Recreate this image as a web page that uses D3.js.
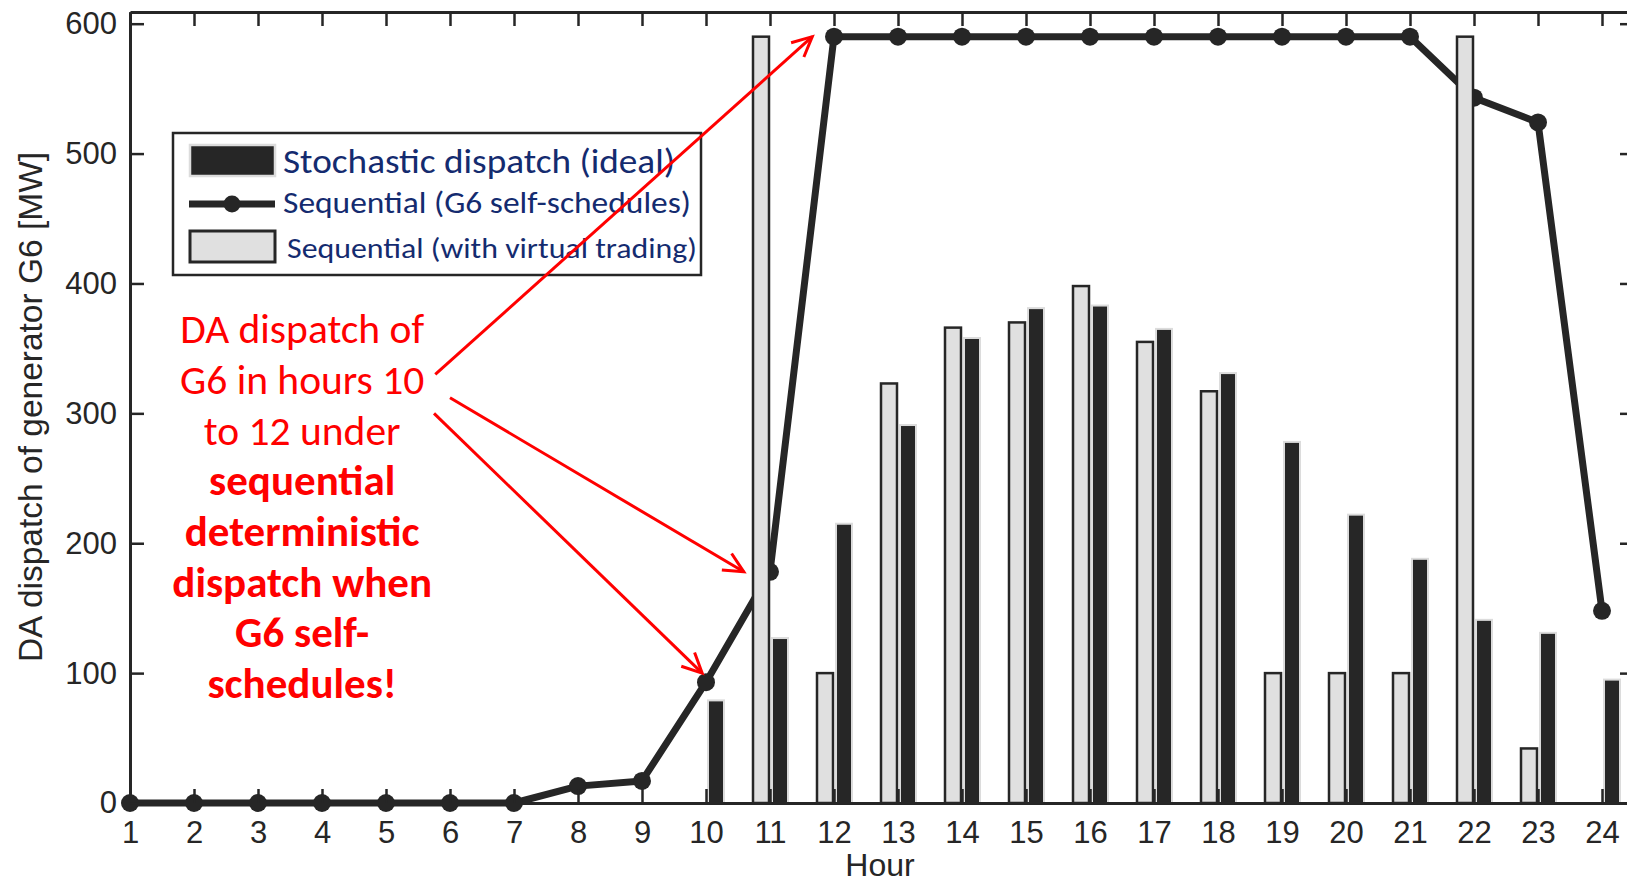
<!DOCTYPE html>
<html>
<head>
<meta charset="utf-8">
<script src="https://cdn.jsdelivr.net/npm/d3@7"></script>
<style>
    body { margin: 0; background: #fff; }
    svg { display: block; }
</style>
</head>
<body>
<svg id="chart" width="1627" height="884"></svg>
<script>
// data (MW per hour)
const hours = d3.range(1, 25);
const stochastic = [0, 0, 0, 0, 0, 0, 0, 0, 0, 79, 127, 215, 291, 358, 381, 383, 365, 331, 278, 222, 188, 141, 131, 95];
const selfSchedule = [0, 0, 0, 0, 0, 0, 0, 13, 17, 93, 178, 590, 590, 590, 590, 590, 590, 590, 590, 590, 590, 543, 524, 148];
const virtualTrading = [0, 0, 0, 0, 0, 0, 0, 0, 0, 0, 590, 100, 323, 366, 370, 398, 355, 317, 100, 100, 100, 590, 42, 0];
const yTicks = [0, 100, 200, 300, 400, 500, 600];

const legendLabels = ["Stochastic dispatch (ideal)", "Sequential (G6 self-schedules)", "Sequential (with virtual trading)"];
const noteLines = [
    { text: "DA dispatch of", bold: false },
    { text: "G6 in hours 10", bold: false },
    { text: "to 12 under", bold: false },
    { text: "sequential", bold: true },
    { text: "deterministic", bold: true },
    { text: "dispatch when", bold: true },
    { text: "G6 self-", bold: true },
    { text: "schedules!", bold: true }
];
// arrows: [fromHour, fromMW, toHour, toMW]
const noteArrows = [
    [5.77, 330, 11.66, 590],
    [6.0, 312, 10.59, 178],
    [5.75, 300, 9.94, 100]
];

const DARK = "#262626";
const LIGHT = "#e0e0e0";
const NAVY = "#142b6f";
const AXIS_FONT = "'Liberation Sans', Arial, Helvetica, sans-serif";
const NOTE_FONT = "Carlito, Calibri, Lato, sans-serif";

const svg = d3.select("#chart");

const x = d3.scaleLinear().domain([1, 24.5]).range([130, 1634]);
const y = d3.scaleLinear().domain([0, 609]).range([803, 12]);

const BAR_W = 16;

// self-schedule line (drawn under the bars, as in the figure)
const lineGen = d3.line()
    .x((d, i) => x(hours[i]))
    .y(d => y(d));

svg.append("path")
    .datum(selfSchedule)
    .attr("d", lineGen)
    .attr("fill", "none")
    .attr("stroke", DARK)
    .attr("stroke-width", 7)
    .attr("stroke-linejoin", "round");

svg.append("g")
    .selectAll("circle")
    .data(selfSchedule)
    .enter()
    .append("circle")
    .attr("cx", (d, i) => x(hours[i]))
    .attr("cy", d => y(d))
    .attr("r", 9)
    .attr("fill", DARK);

// virtual trading bars (left, light)
svg.append("g")
    .selectAll("rect")
    .data(hours.map((h, i) => ({ h: h, v: virtualTrading[i] })).filter(d => d.v > 0))
    .enter()
    .append("rect")
    .attr("x", d => x(d.h) - BAR_W - 1)
    .attr("y", d => y(d.v))
    .attr("width", BAR_W)
    .attr("height", d => y(0) - y(d.v))
    .attr("fill", LIGHT)
    .attr("stroke", DARK)
    .attr("stroke-width", 2.5);

// stochastic bars (right, dark)
svg.append("g")
    .selectAll("rect")
    .data(hours.map((h, i) => ({ h: h, v: stochastic[i] })).filter(d => d.v > 0))
    .enter()
    .append("rect")
    .attr("x", d => x(d.h) + 2)
    .attr("y", d => y(d.v))
    .attr("width", BAR_W)
    .attr("height", d => y(0) - y(d.v))
    .attr("fill", DARK)
    .attr("stroke", "#dcdcdc")
    .attr("stroke-width", 2);

// axes box
function styleAxis(g) {
    g.select(".domain").attr("stroke", DARK).attr("stroke-width", 3);
    g.selectAll(".tick line").attr("stroke", DARK).attr("stroke-width", 2.5);
    g.selectAll(".tick text")
        .attr("fill", DARK)
        .style("font-family", AXIS_FONT)
        .style("font-size", "31px");
}

svg.append("g")
    .attr("transform", `translate(0, ${y(0)})`)
    .call(d3.axisBottom(x).tickValues(hours).tickFormat(d3.format("d")).tickSize(-14).tickSizeOuter(0).tickPadding(18))
    .call(styleAxis);

svg.append("g")
    .attr("transform", `translate(0, ${y(609)})`)
    .call(d3.axisTop(x).tickValues(hours).tickFormat("").tickSize(-14).tickSizeOuter(0))
    .call(styleAxis);

svg.append("g")
    .attr("transform", `translate(${x(1)}, 0)`)
    .call(d3.axisLeft(y).tickValues(yTicks).tickSize(-14).tickSizeOuter(0).tickPadding(13))
    .call(styleAxis);

svg.append("g")
    .attr("transform", `translate(${x(24.5)}, 0)`)
    .call(d3.axisRight(y).tickValues(yTicks).tickFormat("").tickSize(-14).tickSizeOuter(0))
    .call(styleAxis);

// axis titles
svg.append("text")
    .attr("transform", "translate(42, 407) rotate(-90)")
    .attr("text-anchor", "middle")
    .attr("fill", DARK)
    .style("font-family", AXIS_FONT)
    .style("font-size", "33.5px")
    .text("DA dispatch of generator G6 [MW]");

svg.append("text")
    .attr("x", 880)
    .attr("y", 876)
    .attr("text-anchor", "middle")
    .attr("fill", DARK)
    .style("font-family", AXIS_FONT)
    .style("font-size", "32px")
    .text("Hour");

// legend
const legend = svg.append("g").attr("transform", "translate(173, 133)");

legend.append("rect")
    .attr("width", 528)
    .attr("height", 142)
    .attr("fill", "#fff")
    .attr("stroke", DARK)
    .attr("stroke-width", 2.5);

legend.append("rect")
    .attr("x", 17).attr("y", 12)
    .attr("width", 85).attr("height", 31)
    .attr("fill", DARK)
    .attr("stroke", "#dcdcdc")
    .attr("stroke-width", 2.5);

legend.append("line")
    .attr("x1", 16).attr("x2", 102)
    .attr("y1", 71).attr("y2", 71)
    .attr("stroke", DARK)
    .attr("stroke-width", 7);

legend.append("circle")
    .attr("cx", 59).attr("cy", 71).attr("r", 8.5)
    .attr("fill", DARK);

legend.append("rect")
    .attr("x", 17).attr("y", 98)
    .attr("width", 85).attr("height", 31)
    .attr("fill", LIGHT)
    .attr("stroke", DARK)
    .attr("stroke-width", 3);

const legendText = [
    { x: 110, y: 40, size: 34.5, len: 392 },
    { x: 110, y: 80, size: 31, len: 408 },
    { x: 114, y: 125, size: 29.5, len: 410 }
];

legend.selectAll("text.lbl")
    .data(legendLabels)
    .enter()
    .append("text")
    .attr("class", "lbl")
    .attr("x", (d, i) => legendText[i].x)
    .attr("y", (d, i) => legendText[i].y)
    .attr("textLength", (d, i) => legendText[i].len)
    .attr("lengthAdjust", "spacingAndGlyphs")
    .attr("fill", NAVY)
    .style("font-family", NOTE_FONT)
    .style("font-size", (d, i) => `${legendText[i].size}px`)
    .text(d => d);

// red annotation
const note = svg.append("g");

note.selectAll("text")
    .data(noteLines)
    .enter()
    .append("text")
    .attr("x", x(3.69))
    .attr("y", (d, i) => y(354) + i * 50.7)
    .attr("text-anchor", "middle")
    .attr("fill", "#ff0000")
    .style("font-family", NOTE_FONT)
    .style("font-size", d => d.bold ? "43px" : "41.5px")
    .style("font-weight", d => d.bold ? 700 : 400)
    .text(d => d.text);

noteArrows.forEach(a => {
    const x0 = x(a[0]), y0 = y(a[1]), x1 = x(a[2]), y1 = y(a[3]);
    const ang = Math.atan2(y1 - y0, x1 - x0);
    const head = 22, spread = 0.45;
    note.append("line")
        .attr("x1", x0).attr("y1", y0)
        .attr("x2", x1).attr("y2", y1)
        .attr("stroke", "#ff0000")
        .attr("stroke-width", 3);
    note.append("path")
        .attr("d", `M${x1 - head * Math.cos(ang - spread)},${y1 - head * Math.sin(ang - spread)}L${x1},${y1}L${x1 - head * Math.cos(ang + spread)},${y1 - head * Math.sin(ang + spread)}`)
        .attr("fill", "none")
        .attr("stroke", "#ff0000")
        .attr("stroke-width", 3);
});
</script>
</body>
</html>
